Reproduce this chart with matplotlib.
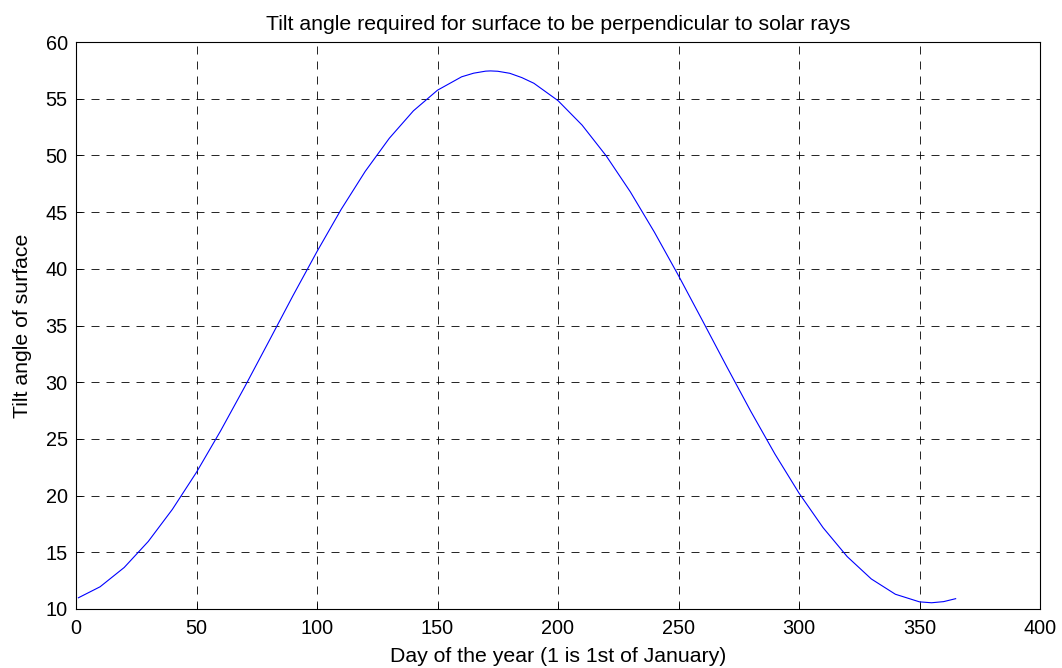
import matplotlib
matplotlib.use("Agg")
import matplotlib.pyplot as plt

days = [1, 10, 20, 30, 40, 50, 60, 70, 80, 90, 100, 110, 120, 130, 140, 150, 160, 165, 170, 172, 175, 180,
        185, 190, 200, 210, 220, 230, 240, 250, 260, 270, 280, 290, 300, 310, 320, 330, 340, 350, 355, 360, 365]
tilt = [10.99, 11.96, 13.66, 15.96, 18.79, 22.06, 25.71, 29.59, 33.59, 37.62, 41.52, 45.23, 48.59, 51.51,
        53.93, 55.75, 56.93, 57.25, 57.43, 57.45, 57.42, 57.24, 56.86, 56.36, 54.83, 52.67, 49.96, 46.79,
        43.23, 39.40, 35.41, 31.38, 27.43, 23.67, 20.22, 17.17, 14.62, 12.65, 11.30, 10.63, 10.55, 10.65, 10.91]

xticks = list(range(0, 401, 50))
yticks = list(range(10, 61, 5))

plt.rcParams['font.family'] = ['Liberation Sans', 'DejaVu Sans']
fig = plt.figure(figsize=(10.62, 6.68), dpi=100)
ax = fig.add_axes([76/1062, 1 - 609/668, (1040-76)/1062, (609-42)/668])
ax.plot(days, tilt, color='#0000ff', lw=0.8)
ax.set_xlim(0, 400)
ax.set_ylim(10, 60)
ax.set_xticks(xticks)
ax.set_yticks(yticks)
ax.grid(True, color='black', linestyle=(0, (9.6, 8.4)), linewidth=0.6)
ax.tick_params(direction='in', length=4, labelsize=14.3, width=0.6)
ax.tick_params(axis='x', pad=7)
ax.tick_params(axis='y', pad=6)
for s in ax.spines.values():
    s.set_linewidth(0.8)
ax.set_title('Tilt angle required for surface to be perpendicular to solar rays', fontsize=15.3, pad=9)
ax.set_xlabel('Day of the year (1 is 1st of January)', fontsize=15.3, labelpad=6.5)
ax.set_ylabel('Tilt angle of surface', fontsize=15.3, labelpad=9.4)
fig.savefig('out.png', dpi=100)
